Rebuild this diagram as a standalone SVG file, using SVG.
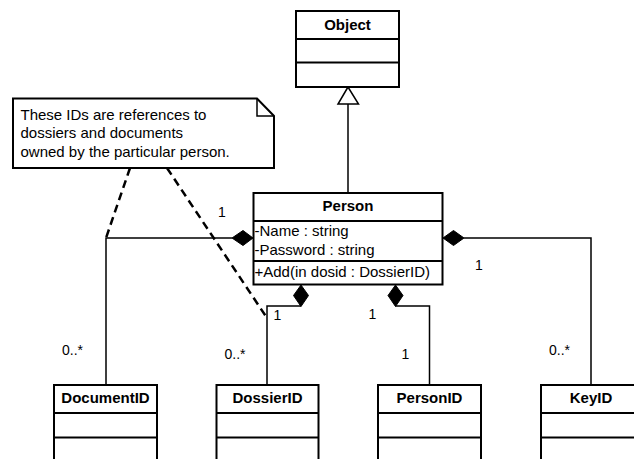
<svg xmlns="http://www.w3.org/2000/svg" width="634" height="459" viewBox="0 0 634 459">
  <style>
    .box { fill: #fff; stroke: #000; stroke-width: 2; }
    .div { stroke: #000; stroke-width: 2; fill: none; }
    .name { font-family: "Liberation Sans", Arial, sans-serif; font-size: 15px; font-weight: bold; text-anchor: middle; fill: #000; }
    .member { font-family: "Liberation Sans", Arial, sans-serif; font-size: 15px; fill: #000; }
    .note { font-family: "Liberation Sans", Arial, sans-serif; font-size: 15px; fill: #000; }
    .mult { font-family: "Liberation Sans", Arial, sans-serif; font-size: 14px; fill: #000; }
    .conn { stroke: #000; stroke-width: 1.5; fill: none; }
    .dash { stroke: #000; stroke-width: 2.5; fill: none; stroke-dasharray: 8 5; }
    .diamond { fill: #000; stroke: #000; stroke-width: 1; }
  </style>
  <rect width="634" height="459" fill="#fff"/>

  <!-- connectors -->
  <g id="connectors">
    <!-- inheritance Person -> Object -->
    <line class="conn" x1="348" y1="104" x2="348" y2="193"/>
    <polygon points="348,87 338,104 358.5,104" fill="#fff" stroke="#000" stroke-width="1.5"/>

    <!-- Person <>- DocumentID -->
    <polyline class="conn" points="232,238 106,238 106,385"/>
    <polygon class="diamond" points="253,238 243,230.5 232,238 243,245.5"/>

    <!-- Person <>- DossierID -->
    <polyline class="conn" points="301,306 267,306 267,385"/>
    <polygon class="diamond" points="301,285 308.5,295.5 301,306.5 293.5,295.5"/>

    <!-- Person <>- PersonID -->
    <polyline class="conn" points="395.5,306 429.5,306 429.5,385"/>
    <polygon class="diamond" points="395.5,285 403,295.5 395.5,306.5 388,295.5"/>

    <!-- Person <>- KeyID -->
    <polyline class="conn" points="464,238 591,238 591,385"/>
    <polygon class="diamond" points="443,238 453.5,230.5 464,238 453.5,245.5"/>

    <!-- note anchors -->
    <line class="dash" x1="130" y1="168" x2="106" y2="238"/>
    <line class="dash" x1="167" y1="168" x2="267" y2="318"/>

    <!-- multiplicities -->
    <text class="mult" x="218" y="216.5">1</text>
    <text class="mult" x="62" y="355">0..*</text>
    <text class="mult" x="273.5" y="319.5">1</text>
    <text class="mult" x="224.5" y="359">0..*</text>
    <text class="mult" x="368.5" y="319">1</text>
    <text class="mult" x="401.5" y="358.5">1</text>
    <text class="mult" x="475" y="270">1</text>
    <text class="mult" x="549" y="355">0..*</text>
  </g>

  <!-- note -->
  <g id="note">
    <polygon points="13,98.5 257,98.5 274,116 274,168 13,168" fill="#fff" stroke="#000" stroke-width="2"/>
    <polyline points="257,98.5 257,116 274,116" fill="none" stroke="#000" stroke-width="1.5"/>
    <text class="note" x="20.5" y="119.5">These IDs are references to</text>
    <text class="note" x="20.5" y="138">dossiers and documents</text>
    <text class="note" x="20.5" y="156.5">owned by the particular person.</text>
  </g>

  <!-- Object -->
  <g id="Object">
    <rect class="box" x="296" y="11" width="103" height="76"/>
    <line class="div" x1="296" y1="39" x2="399" y2="39"/>
    <line class="div" x1="296" y1="62.5" x2="399" y2="62.5"/>
    <text class="name" x="347.5" y="29.5">Object</text>
  </g>

  <!-- Person -->
  <g id="Person">
    <rect class="box" x="253.5" y="193" width="189" height="91.5"/>
    <line class="div" x1="253.5" y1="221" x2="442.5" y2="221"/>
    <line class="div" x1="253.5" y1="261" x2="442.5" y2="261"/>
    <text class="name" x="348" y="211">Person</text>
    <text class="member" x="254.5" y="236">-Name : string</text>
    <text class="member" x="254.5" y="254.5">-Password : string</text>
    <text class="member" x="254.5" y="277">+Add(in dosid : DossierID)</text>
  </g>

  <!-- DocumentID -->
  <g id="DocumentID">
    <rect class="box" x="54" y="385" width="103" height="90"/>
    <line class="div" x1="54" y1="413" x2="157" y2="413"/>
    <line class="div" x1="54" y1="437.5" x2="157" y2="437.5"/>
    <text class="name" x="105.5" y="403">DocumentID</text>
  </g>

  <!-- DossierID -->
  <g id="DossierID">
    <rect class="box" x="216.5" y="385" width="102" height="90"/>
    <line class="div" x1="216.5" y1="413" x2="318.5" y2="413"/>
    <line class="div" x1="216.5" y1="437.5" x2="318.5" y2="437.5"/>
    <text class="name" x="267.5" y="403">DossierID</text>
  </g>

  <!-- PersonID -->
  <g id="PersonID">
    <rect class="box" x="378" y="385" width="103" height="90"/>
    <line class="div" x1="378" y1="413" x2="481" y2="413"/>
    <line class="div" x1="378" y1="437.5" x2="481" y2="437.5"/>
    <text class="name" x="429.5" y="403">PersonID</text>
  </g>

  <!-- KeyID -->
  <g id="KeyID">
    <rect class="box" x="541" y="385" width="101" height="90"/>
    <line class="div" x1="541" y1="413" x2="642" y2="413"/>
    <line class="div" x1="541" y1="437.5" x2="642" y2="437.5"/>
    <text class="name" x="591" y="403">KeyID</text>
  </g>
</svg>
